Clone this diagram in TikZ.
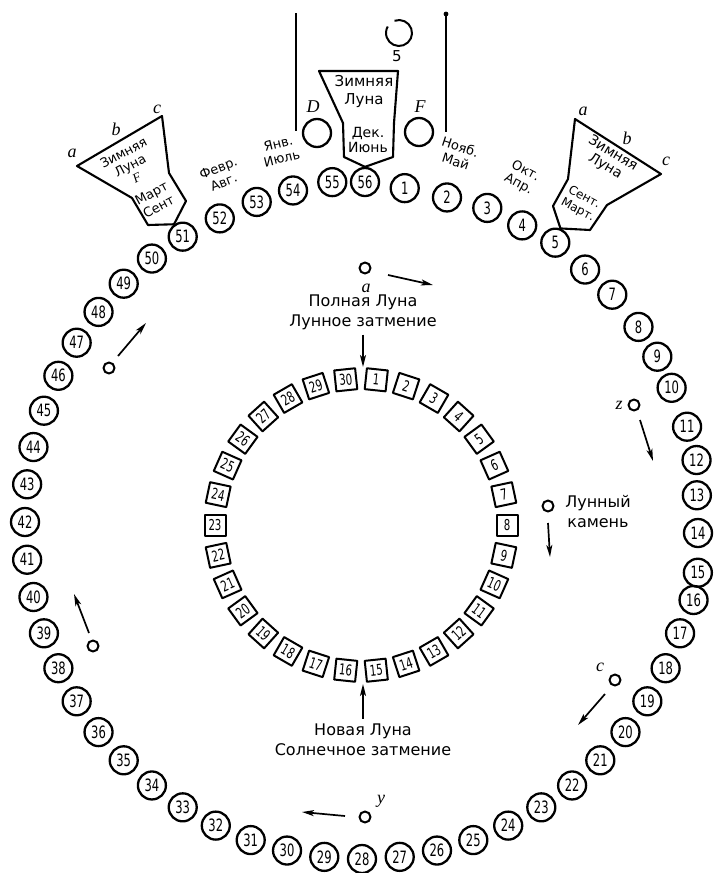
\documentclass[tikz,border=0pt]{standalone}
\usepackage{fontspec}
\setmainfont{DejaVu Sans}
\newfontfamily\numfont[FakeStretch=0.68]{DejaVu Sans}
\newfontfamily\tagfont{Liberation Serif}
\usetikzlibrary{arrows.meta}
\begin{document}
\begin{tikzpicture}[x=1pt, y=-1pt, line join=round,
        hole/.style = {circle, draw, line width=2.3pt, minimum size=28pt, inner sep=0pt, font=\numfont\fontsize{17}{17}\selectfont},
        daybox/.style = {draw, line width=2pt, minimum size=21pt, inner sep=0pt, font=\numfont\fontsize{15}{15}\selectfont},
        dot/.style = {circle, draw, line width=2pt, minimum size=11pt, inner sep=0pt},
        txt/.style = {align=center, inner sep=0pt, font=\fontsize{16}{20}\selectfont},
        mon/.style = {align=center, inner sep=0pt, font=\fontsize{13}{15}\selectfont},
        fun/.style = {align=center, inner sep=0pt, font=\fontsize{15}{18}\selectfont},
        tag/.style = {inner sep=0pt, font=\tagfont\itshape\fontsize{18}{18}\selectfont},
        move/.style = {-{Stealth[length=12pt, width=6pt, inset=3pt]}, line width=1.7pt},
        wall/.style = {draw, line width=2.1pt}]
    \useasboundingbox (0,0) rectangle (719,873);
    \foreach \n/\dx/\dy in {1/5/1, 2/10/4, 3/14/4, 4/14/7, 5/14/6, 6/13/11, 7/12/11, 8/13/15, 9/10/14, 10/6/12, 11/7/16, 12/6/13, 13/0/11, 14/-1/11, 15/1/13, 16/3/3, 52/4/0, 53/6/-2, 54/6/-3, 55/8/-5, 56/3/-3}
        \node[hole] (h\n) at ([shift={(362+\dx,522+\dy)}]{360/56*\n-90}:337) {\n};
    \foreach \n in {17,...,51}
        \node[hole] (h\n) at ([shift={(362,522)}]{360/56*\n-90}:337) {\n};
    \foreach \k in {1,...,30} {
        \pgfmathsetmacro\ang{96-12*\k}
        \node[daybox, rotate={\ang-90*round(\ang/90)}] (d\k) at ([shift={(361,525)}]{-\ang}:146) {\k};
    }
    \node[txt] (full) at (363,312) {Полная Луна\\Лунное затмение};
    \coordinate (fulltip) at (363,367);
    \draw[move] ([yshift=-5pt]full.south) -- (fulltip);
    \node[txt] (new) at (363,740) {Новая Луна\\Солнечное затмение};
    \coordinate (newtip) at (363,684);
    \draw[move] ([yshift=5pt]new.north) -- (newtip);
    \node[txt] (stone) at (598,512) {Лунный\\камень};
    \coordinate (T1) at (319,71); \coordinate (T2) at (398,71); \coordinate (T3) at (394,123);
    \coordinate (T4) at (393,157); \coordinate (T5) at (344,157); \coordinate (T6) at (343,123);
    \draw[wall] (T1) -- (T2) -- (T3) -- (T4) -- (h56.north) -- (T5) -- (T6) -- cycle;
    \coordinate (L1) at (77,166); \coordinate (L2) at (162,116); \coordinate (L3) at (169,173);
    \coordinate (L4) at (186,201); \coordinate (L5) at (148,225); \coordinate (L6) at (132,198);
    \draw[wall] (L1) -- (L2) -- (L3) -- (L4) -- (h51.125) -- (L5) -- (L6) -- cycle;
    \coordinate (R1) at (575,119); \coordinate (R2) at (661,174); \coordinate (R3) at (607,205);
    \coordinate (R4) at (590,230); \coordinate (R5) at (553,206); \coordinate (R6) at (568,179);
    \draw[wall] (R1) -- (R2) -- (R3) -- (R4) -- (h5.70) -- (R5) -- (R6) -- cycle;
    \node[fun] at (364,91) {Зимняя\\Луна};
    \node[fun, font=\fontsize{14}{15}\selectfont] at (368,140) {Дек.\\Июнь};
    \node[fun, rotate=28, font=\fontsize{13}{14}\selectfont] at (130,165) {Зимняя\\Луна\\{\tagfont\itshape F}};
    \node[fun, rotate=28, font=\fontsize{13}{15}\selectfont] at (155,200) {Март\\Сент};
    \node[fun, rotate=-31, font=\fontsize{14}{15}\selectfont] at (609,160) {Зимняя\\Луна};
    \node[fun, rotate=-28, font=\fontsize{12}{14}\selectfont] at (581,204) {Сент.\\Март.};
    \node[mon, rotate=21] (feb) at (221,175) {Февр.\\Авг.};
    \node[mon, rotate=14] (jan) at (280,151) {Янв.\\Июль};
    \node[mon, rotate=-18] (nov) at (458,154) {Нояб.\\Май};
    \node[mon, rotate=-28] (oct) at (522,178) {Окт.\\Апр.};
    \node[tag] at (72,153) {a}; \node[tag] at (116,129) {b}; \node[tag] at (157,109) {c};
    \node[tag] at (583,111) {a}; \node[tag] at (627,138) {b}; \node[tag] at (666,161) {c};
    \node[hole] (cD) at (317,133) {}; \node[tag] at (313,107) {D};
    \node[hole] (cF) at (419,132) {}; \node[tag] at (420,107) {F};
    \coordinate (moon) at (399,33);
    \draw[line width=2pt] (moon) ++(-110:13) arc[start angle=-110, end angle=210, radius=13];
    \node[fun] at (397,56) {5};
    \draw[line width=2.2pt] (296,13) -- (296,131);
    \draw[line width=2.2pt] (446,13) -- (446,132);
    \fill (446,14) circle[radius=2.4pt];
    \foreach \m/\x/\y/\ax/\ay/\bx/\by in {a/365/268/388/275/433/285, nw/109/368/118/356/146/323,
            z/634/405/640/420/653/461, st/548/506/548/523/550/557, c/615/680/605/694/578/725,
            y/365/817/345/816/302/812, sw/93/646/89/633/74/594} {
        \node[dot] (m\m) at (\x,\y) {};
        \coordinate (s\m) at (\ax,\ay); \coordinate (e\m) at (\bx,\by);
        \draw[move] (s\m) -- (e\m);
    }
    \node[tag] at (366,288) {a}; \node[tag] at (619,405) {z};
    \node[tag] at (600,667) {c}; \node[tag] at (381,801) {y};
\end{tikzpicture}
\end{document}
